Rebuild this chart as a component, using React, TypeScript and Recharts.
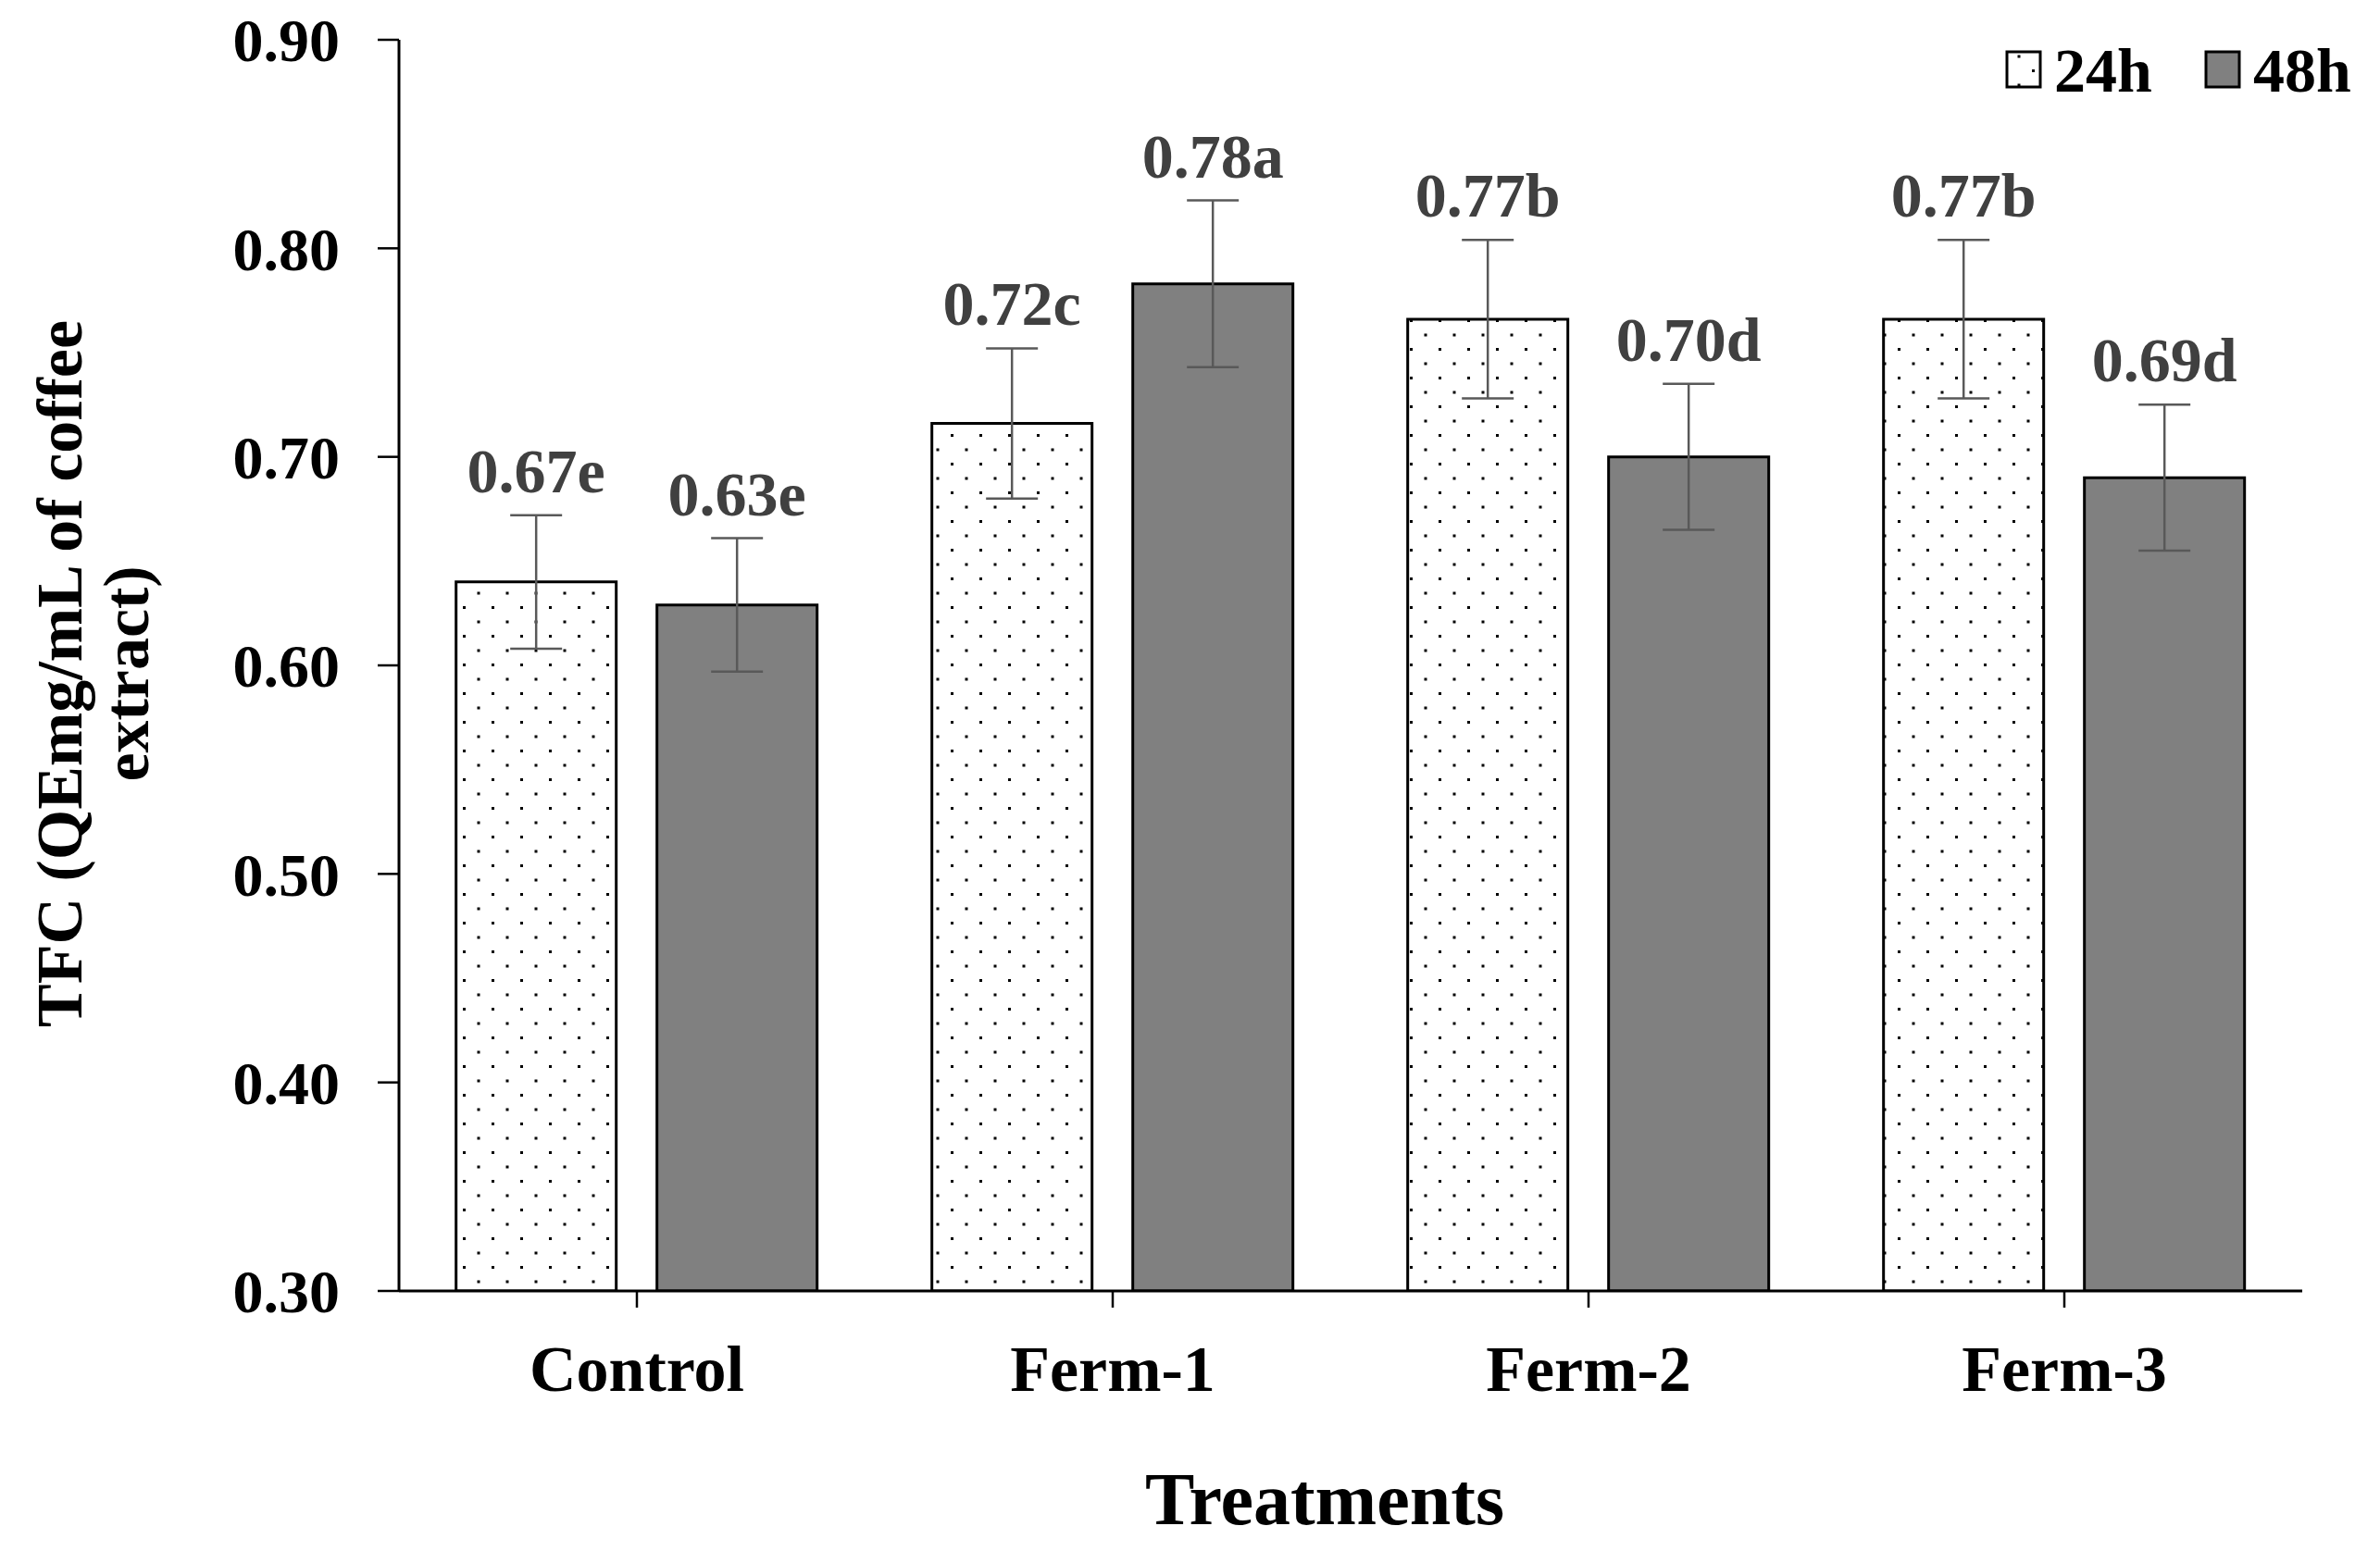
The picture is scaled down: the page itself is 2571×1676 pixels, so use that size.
import React from 'react';
import { BarChart, Bar, XAxis, YAxis, ErrorBar, LabelList, Legend } from 'recharts';

const categories = ['Control', 'Ferm-1', 'Ferm-2', 'Ferm-3'];
const values24 = [0.640, 0.716, 0.766, 0.766];
const values48 = [0.629, 0.783, 0.700, 0.690];
const errors24 = [0.032, 0.036, 0.038, 0.038];
const errors48 = [0.032, 0.040, 0.035, 0.035];
const labels24 = ['0.67e', '0.72c', '0.77b', '0.77b'];
const labels48 = ['0.63e', '0.78a', '0.70d', '0.69d'];
const yTicks = [0.3, 0.4, 0.5, 0.6, 0.7, 0.8, 0.9];
const Y_MIN = 0.3;
const Y_MAX = 0.9;

const data = categories.map((c, i) => ({
  category: c,
  h24: values24[i],
  h48: values48[i],
  e24: errors24[i],
  e48: errors48[i],
  l24: labels24[i],
  l48: labels48[i],
}));

const FONT = '"Liberation Serif", "Times New Roman", Times, serif';

const makeLabel = (means: number[], errs: number[]) => (p: any) => {
  const x = Number(p.x);
  const y = Number(p.y);
  const w = Number(p.width);
  const h = Number(p.height);
  const idx = Number(p.index);
  const mean = means[idx];
  const pxPerUnit = h / (mean - Y_MIN);
  const top = y - errs[idx] * pxPerUnit;
  return (
    <text
      x={x + w / 2}
      y={top - 25}
      textAnchor="middle"
      fontFamily={FONT}
      fontWeight="bold"
      fontSize={68}
      fill="#404040"
    >
      {p.value}
    </text>
  );
};

const YTitle = () => (
  <g>
    <text
      transform="translate(88,728) rotate(-90)"
      textAnchor="middle"
      fontFamily={FONT}
      fontWeight="bold"
      fontSize={70}
      fill="#000"
    >
      TFC (QEmg/mL of coffee
    </text>
    <text
      transform="translate(160,728) rotate(-90)"
      textAnchor="middle"
      fontFamily={FONT}
      fontWeight="bold"
      fontSize={70}
      fill="#000"
    >
      extract)
    </text>
  </g>
);

const XTitle = () => (
  <text
    x={1431}
    y={1647}
    textAnchor="middle"
    fontFamily={FONT}
    fontWeight="bold"
    fontSize={80}
    fill="#000"
  >
    Treatments
  </text>
);

const renderLegend = (props: any) => {
  const payload = props.payload || [];
  return (
    <svg width={400} height={70} style={{ display: 'block', overflow: 'visible' }}>
      {payload.map((item: any, i: number) => {
        const ox = i * 215;
        return (
          <g key={i}>
            <rect
              x={ox + 8}
              y={16}
              width={36}
              height={38}
              fill={i === 0 ? 'url(#dots24)' : '#808080'}
              stroke="#000"
              strokeWidth={3}
            />
            <text
              x={ox + 59}
              y={59}
              fontFamily={FONT}
              fontWeight="bold"
              fontSize={68}
              fill="#000"
            >
              {item.value}
            </text>
          </g>
        );
      })}
    </svg>
  );
};

export default function App() {
  return (
    <div style={{ position: 'absolute', left: 0, top: 0, width: 2571, height: 1676, background: '#fff' }}>
      <svg width={0} height={0} style={{ position: 'absolute' }}>
        <defs>
          <pattern id="dots24" patternUnits="userSpaceOnUse" width={31} height={31}>
            <rect x={0} y={0} width={31} height={31} fill="#fff" />
            <rect x={4} y={4} width={3} height={3} fill="#000" />
            <rect x={19.5} y={19.5} width={3} height={3} fill="#000" />
          </pattern>
        </defs>
      </svg>
      <BarChart
        width={2571}
        height={1676}
        data={data}
        margin={{ top: 43, right: 84, bottom: 0, left: 0 }}
        barCategoryGap="12%"
        barGap={44}
      >
        <XAxis
          dataKey="category"
          height={281}
          axisLine={{ stroke: '#000', strokeWidth: 3 }}
          tickLine={{ stroke: '#000', strokeWidth: 2.5 }}
          tickSize={18}
          tickMargin={40}
          tick={{ fontFamily: FONT, fontWeight: 'bold', fontSize: 70, fill: '#000' }}
          label={{ content: () => <XTitle /> }}
        />
        <YAxis
          width={431}
          domain={[Y_MIN, Y_MAX]}
          ticks={yTicks}
          interval={0}
          allowDataOverflow
          tickFormatter={(v: number) => v.toFixed(2)}
          axisLine={{ stroke: '#000', strokeWidth: 3 }}
          tickLine={{ stroke: '#000', strokeWidth: 2.5 }}
          tickSize={23}
          tickMargin={41}
          tick={{ fontFamily: FONT, fontWeight: 'bold', fontSize: 66, fill: '#000' }}
          label={{ content: () => <YTitle /> }}
        />
        <Legend
          layout="horizontal"
          verticalAlign="middle"
          align="center"
          content={renderLegend}
          wrapperStyle={{ position: 'absolute', top: 40, left: 2160, width: 400, height: 70 }}
        />
        <Bar
          dataKey="h24"
          name="24h"
          fill="url(#dots24)"
          stroke="#000"
          strokeWidth={3}
          isAnimationActive={false}
        >
          <ErrorBar dataKey="e24" width={28} stroke="#595959" strokeWidth={2.5} direction="y" isAnimationActive={false} />
          <LabelList dataKey="l24" content={makeLabel(values24, errors24)} />
        </Bar>
        <Bar
          dataKey="h48"
          name="48h"
          fill="#808080"
          stroke="#000"
          strokeWidth={3}
          isAnimationActive={false}
        >
          <ErrorBar dataKey="e48" width={28} stroke="#595959" strokeWidth={2.5} direction="y" isAnimationActive={false} />
          <LabelList dataKey="l48" content={makeLabel(values48, errors48)} />
        </Bar>
      </BarChart>
    </div>
  );
}
